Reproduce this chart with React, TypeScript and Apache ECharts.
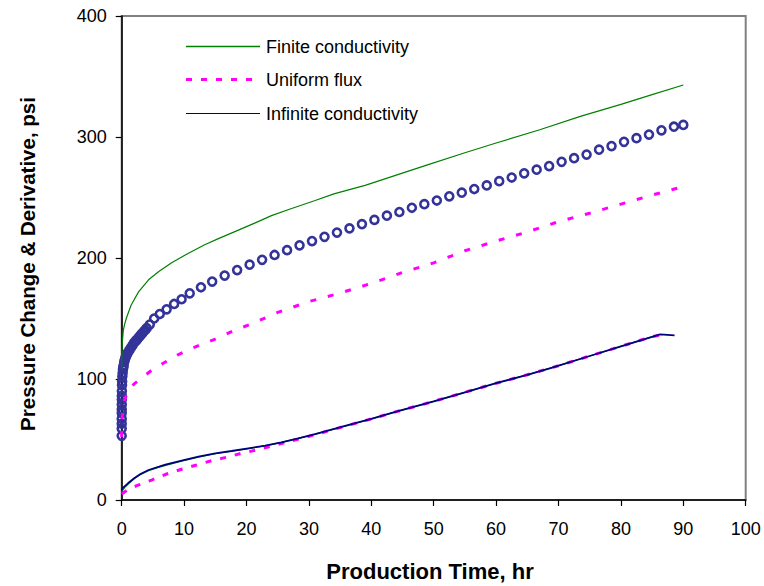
import React, { useEffect, useRef } from "react";
import * as echarts from "echarts";

// Upper curves (pressure change)
const finiteT = [0.0005, 0.01, 0.05, 0.1, 0.25, 0.5, 0.8, 1.5, 2.7, 4.3, 6, 8, 10.7, 13.3, 15.5, 18.7, 21.4, 24, 27, 31, 34, 39, 44, 49, 55, 60, 67, 73.5, 80, 85, 90];
const finiteV = [108, 117, 125, 130, 140, 146, 151, 161, 172, 182, 189, 196, 204, 211, 216, 223, 229, 235, 240.5, 247.5, 253, 260, 268.5, 277, 287, 295, 306, 317, 327, 335, 343];

const uniformT = [0.0005, 0.01, 0.05, 0.1, 0.3, 0.5, 1, 2, 3, 5, 7, 9, 12, 15, 18, 21, 25, 30, 35, 40, 45, 50, 55, 60, 65, 70, 75, 80, 85, 90];
const uniformV = [52, 60, 66, 70, 78, 83, 90, 96, 100, 108, 114, 120, 127, 133, 140, 146, 155, 164, 171, 179, 188, 196, 206, 214, 221.5, 230, 237, 244.5, 252, 259];

const infiniteT = [0.0005, 0.001, 0.002, 0.003, 0.005, 0.007, 0.01, 0.015, 0.02, 0.03, 0.05, 0.07, 0.1, 0.15, 0.2, 0.25, 0.3, 0.4, 0.5, 0.6, 0.7, 0.85, 1, 1.25, 1.5, 1.75, 2, 2.25, 2.5, 2.75, 3, 3.25, 3.5, 3.75, 4, 4.5, 5.2, 6.1, 7.2, 8.4, 9.6, 10.9, 12.7, 14.5, 16.5, 18.5, 20.5, 22.5, 24.5, 26.5, 28.5, 30.5, 32.5, 34.5, 36.5, 38.5, 40.5, 42.5, 44.5, 46.5, 48.5, 50.5, 52.5, 54.5, 56.5, 58.5, 60.5, 62.5, 64.5, 66.5, 68.5, 70.5, 72.5, 74.5, 76.5, 78.5, 80.5, 82.5, 84.5, 86.5, 88.5, 90];
const infiniteV = [53, 59, 63, 67, 72, 75, 79, 83, 86, 90, 95, 98, 102, 105, 108, 109.5, 111, 114, 116, 117.5, 119, 120.5, 122, 124, 126, 128, 130, 131.5, 133, 134.5, 136, 137.5, 139, 140.5, 142, 145, 150, 153.7, 157.6, 162, 165.9, 170.8, 175.8, 180.5, 185.5, 190, 194.5, 198.5, 202.5, 206.5, 210.5, 214, 217.5, 221, 224.5, 228, 231.5, 235, 238, 241.5, 244.5, 247.5, 251, 254, 257, 260, 263.5, 266.5, 270, 273, 276, 279.5, 282.5, 285.5, 289.5, 292.5, 296, 299, 302, 305.5, 308.5, 310];

// Lower curves (derivative)
const finiteDT = [0.0005, 0.5, 1, 2, 3, 4.3, 6, 9.6, 12.3, 15, 17.6, 20.3, 23, 25.6, 28.3, 31, 35.8, 40, 44, 50, 55, 60, 65, 70, 75, 80, 86];
const finiteDV = [7, 10.5, 13, 17.5, 21, 24.3, 27.2, 32, 35.3, 38.2, 40.3, 42.5, 44.8, 47.6, 50.9, 54.4, 61.1, 67, 73, 81.5, 89, 96.5, 103.5, 111, 119, 127, 136.5];

const uniformDT = [0.0005, 1, 2.4, 4.8, 7.2, 9.6, 12, 14.4, 16.8, 19.2, 21.6, 24, 26.4, 28.8, 31.2, 33.6, 40, 44, 50, 55, 60, 65, 70, 75, 80, 85, 87];
const uniformDV = [5, 8.5, 11.8, 16.5, 21.5, 25.4, 28.9, 32.5, 35.3, 38.6, 41.3, 44.6, 47.7, 51, 54.3, 57.9, 67, 73, 81.5, 89, 96.5, 103.5, 111, 119, 127, 135, 137];

const infiniteDT = [0.0005, 0.1, 0.5, 1, 2, 3, 4.3, 6, 7, 9.6, 12.3, 15, 17.6, 20.3, 23, 25.6, 28.3, 31, 35.8, 40, 44, 50, 55, 60, 65, 68.6, 75, 80, 86.3, 88.6];
const infiniteDV = [8, 9.5, 11.5, 13.8, 18, 21.5, 24.8, 27.6, 29.3, 32.5, 35.8, 38.6, 40.5, 42.7, 44.9, 47.7, 51, 54.5, 61.2, 67, 73, 81.5, 89, 96.5, 103.5, 108.8, 119, 127, 136.9, 136.1];

const legendNames = ["Finite conductivity", "Uniform flux", "Infinite conductivity"];
const xTitle = "Production Time, hr";
const yTitle = "Pressure Change & Derivative, psi";

const FONT = "'Liberation Sans', Arial, sans-serif";
const GREEN = "#008000";
const MAGENTA = "#FF00FF";
const NAVY = "#000080";
const INDIGO = "#333399";

const zip = (t: number[], v: number[]) => t.map((x, i) => [x, v[i]]);

const legendStyles = [
  { stroke: GREEN, lineWidth: 1.3 },
  { stroke: MAGENTA, lineWidth: 3, lineDash: [6, 9] },
  { stroke: NAVY, lineWidth: 1.2 },
];

export default function App() {
  const ref = useRef<HTMLDivElement>(null);
  useEffect(() => {
    if (!ref.current) return;
    const chart = echarts.init(ref.current, undefined, { renderer: "svg" });
    const legendRowsY = [46.5, 79.5, 113.5];
    const legendGraphics: any[] = [];
    legendNames.forEach((name, i) => {
      legendGraphics.push({
        type: "line",
        shape: { x1: 186, y1: legendRowsY[i], x2: 260, y2: legendRowsY[i] },
        style: { ...legendStyles[i] },
        silent: true,
      });
      legendGraphics.push({
        type: "text",
        x: 266,
        y: legendRowsY[i],
        style: {
          text: name,
          font: `18px ${FONT}`,
          fill: "#000",
          align: "left",
          verticalAlign: "middle",
        },
        silent: true,
      });
    });
    chart.setOption({
      animation: false,
      backgroundColor: "#ffffff",
      textStyle: { fontFamily: FONT },
      grid: {
        left: 121.7,
        right: 18.3,
        top: 16,
        bottom: 86,
        show: true,
        borderColor: "#808080",
        borderWidth: 2,
        backgroundColor: "transparent",
      },
      graphic: [
        ...legendGraphics,
        {
          type: "text",
          x: 27,
          y: 264,
          rotation: Math.PI / 2,
          style: {
            text: yTitle,
            font: `bold 20.5px ${FONT}`,
            fill: "#000",
            align: "center",
            verticalAlign: "middle",
          },
          silent: true,
        },
        {
          type: "text",
          x: 430,
          y: 571,
          style: {
            text: xTitle,
            font: `bold 22px ${FONT}`,
            fill: "#000",
            align: "center",
            verticalAlign: "middle",
          },
          silent: true,
        },
      ],
      xAxis: {
        type: "value",
        min: 0,
        max: 100,
        interval: 10,
        axisLine: { show: true, onZero: false, lineStyle: { color: "#000", width: 1.5 } },
        axisTick: { show: true, inside: false, length: 6, lineStyle: { color: "#000", width: 1.2 } },
        axisLabel: { fontFamily: FONT, fontSize: 18, color: "#000", margin: 20 },
        splitLine: { show: false },
      },
      yAxis: {
        type: "value",
        min: 0,
        max: 400,
        interval: 100,
        axisLine: { show: true, onZero: false, lineStyle: { color: "#000", width: 1.5 } },
        axisTick: { show: true, inside: false, length: 6, lineStyle: { color: "#000", width: 1.2 } },
        axisLabel: { fontFamily: FONT, fontSize: 18, color: "#000", margin: 15 },
        splitLine: { show: false },
      },
      series: [
        {
          name: "Finite conductivity derivative",
          type: "line",
          data: zip(finiteDT, finiteDV),
          symbol: "none",
          lineStyle: { color: GREEN, width: 1.2 },
        },
        {
          name: "Uniform flux derivative",
          type: "line",
          data: zip(uniformDT, uniformDV),
          symbol: "none",
          lineStyle: { color: MAGENTA, width: 3, type: [6, 9] },
        },
        {
          name: legendNames[2],
          type: "line",
          data: zip(infiniteDT, infiniteDV),
          symbol: "none",
          lineStyle: { color: NAVY, width: 1.8 },
        },
        {
          name: legendNames[0],
          type: "line",
          data: zip(finiteT, finiteV),
          symbol: "none",
          lineStyle: { color: GREEN, width: 1.2 },
        },
        {
          name: legendNames[1],
          type: "line",
          data: zip(uniformT, uniformV),
          symbol: "none",
          lineStyle: { color: MAGENTA, width: 3, type: [6, 12] },
        },
        {
          name: "Infinite conductivity pressure",
          type: "scatter",
          data: zip(infiniteT, infiniteV),
          symbol: "circle",
          symbolSize: 8,
          itemStyle: { color: "rgba(0,0,0,0)", borderColor: INDIGO, borderWidth: 2.6, opacity: 1 },
        },
      ],
    });
    return () => chart.dispose();
  }, []);
  return (
    <div
      ref={ref}
      style={{ position: "fixed", left: 0, top: 0, width: 764, height: 586, background: "#fff" }}
    />
  );
}
